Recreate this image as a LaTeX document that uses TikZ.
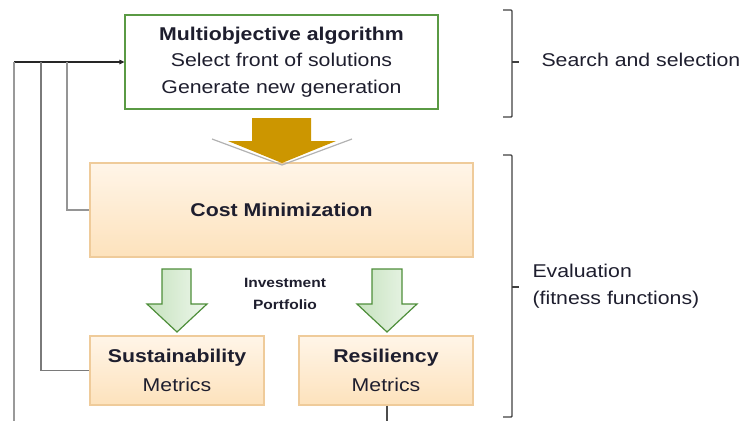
\documentclass[tikz,border=0pt]{standalone}
\usepackage{fontspec}
\setmainfont{Liberation Sans}[FakeStretch=1.15]
\usetikzlibrary{arrows.meta,shadows}
\definecolor{boxgreen}{HTML}{5A9A44}
\definecolor{txt}{HTML}{1E1E2E}
\definecolor{tanedge}{HTML}{EFCB9A}
\definecolor{peachtop}{HTML}{FFF5E8}
\definecolor{peachbot}{HTML}{FDE2BC}
\definecolor{gold}{HTML}{CC9600}
\definecolor{arrgreen}{HTML}{4E8E3A}
\definecolor{lgreenA}{HTML}{C6E2BE}
\definecolor{lgreenB}{HTML}{EEF7EC}
\definecolor{linegray}{HTML}{7A7A7A}
\tikzset{
  algobox/.style={draw=boxgreen,line width=1.2pt,fill=white,minimum width=313pt,minimum height=94pt,align=center,text=txt,inner sep=0pt,
    font=\fontsize{18.5}{26.5}\selectfont},
  evalbox/.style={draw=tanedge,line width=1.2pt,top color=peachtop,bottom color=peachbot,align=center,text=txt,inner sep=0pt,
    font=\fontsize{18.5}{29}\selectfont,
    drop shadow={opacity=0.18,shadow xshift=1pt,shadow yshift=-1.2pt}},
  greenarrow/.style={draw=arrgreen,line width=1.2pt,left color=lgreenA,right color=lgreenB},
  fb/.style={draw=linegray,line width=1.3pt},
  brk/.style={draw=black!75,line width=1.4pt,rounded corners=1pt},
  sidetxt/.style={anchor=west,text=txt,align=left,font=\fontsize{18.5}{27}\selectfont}
}
\begin{document}
\begin{tikzpicture}[x=1pt,y=-1pt]
\useasboundingbox (0,0) rectangle (747,421);

% boxes
\node[algobox] (algo) at (281.5,62) {\textbf{Multiobjective algorithm}\\Select front of solutions\\Generate new generation};
\node[evalbox,minimum width=383pt,minimum height=94pt] (cost) at (281.5,210) {\textbf{Cost Minimization}};
\node[evalbox,minimum width=174pt,minimum height=69pt] (sust) at (177,370.5) {\textbf{Sustainability}\\Metrics};
\node[evalbox,minimum width=174pt,minimum height=69pt] (resil) at (386,370.5) {\textbf{Resiliency}\\Metrics};
\node[text=txt,align=center,font=\fontsize{13.5}{22}\selectfont\bfseries] (inv) at (285,294) {Investment\\Portfolio};

% gold arrow
\draw[black!30,line width=1.2pt] (212,139) -- (282,165) -- (352,139);
\fill[gold] (252,118) -- (311,118) -- (311,141) -- (336,141) -- (282,163) -- (228,141) -- (252,141) -- cycle;

% green arrows
\path[greenarrow] (162,269) -- (191,269) -- (191,304) -- (207,304) -- (177,332) -- (147,304) -- (162,304) -- cycle;
\path[greenarrow] (372,269) -- (402,269) -- (402,304) -- (417,304) -- (387,332) -- (357,304) -- (372,304) -- cycle;

% feedback connectors
\coordinate (c1) at (14,62);
\coordinate (c1b) at (14,421);
\coordinate (c2) at (41,62);
\coordinate (c3) at (67,62);
\coordinate (rb) at (387,421);
\draw[fb,draw=black!85,line width=1.1pt,-{Triangle[length=5pt,width=4.5pt]}] (c1) -- (algo.west);
\draw[fb,draw=black!40] (c1) -- (c1b);
\draw[fb] (c2) |- (sust.west);
\draw[fb,draw=linegray!80] (c3) |- (cost.west);
\draw[fb,draw=black!70,line width=1.1pt] (resil.south -| rb) -- (rb);

% brackets
\draw[brk] (503,10) -- (512,10) -- (512,117) -- (503,117);
\draw[brk,rounded corners=0pt] (512,62) -- (519,62);
\draw[brk] (503,155) -- (512,155) -- (512,417) -- (503,417);
\draw[brk,rounded corners=0pt] (512,287) -- (519,287);

\node[sidetxt] (search) at (538,60) {Search and selection};
\node[sidetxt] (evalt) at (529,286) {Evaluation\\(fitness functions)};
\end{tikzpicture}
\end{document}
